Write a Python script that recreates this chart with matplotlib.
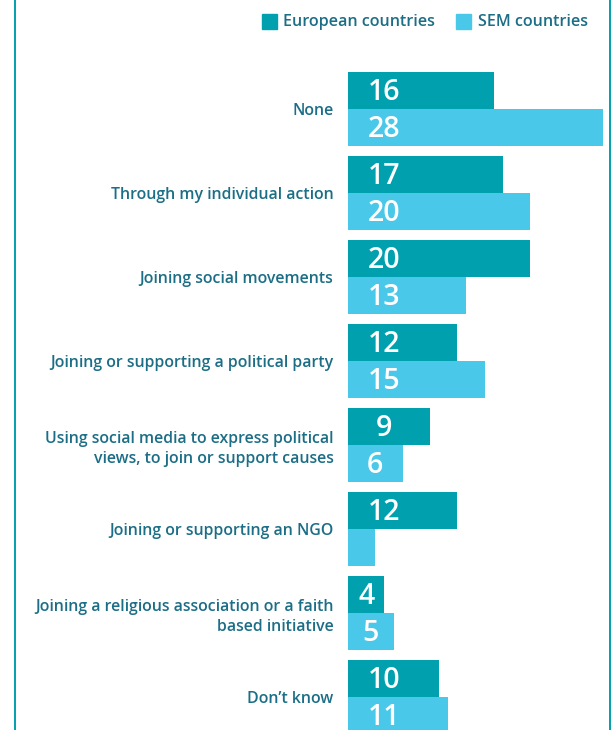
"""
Political engagement bars: European vs SEM countries
"""

import matplotlib
matplotlib.use("Agg")
import matplotlib.pyplot as plt
from matplotlib.lines import Line2D
from matplotlib.patches import Rectangle

categories = [
    "None",
    "Through my individual action",
    "Joining social movements",
    "Joining or supporting a political party",
    "Using social media to express political\nviews, to join or support causes",
    "Joining or supporting an NGO",
    "Joining a religious association or a faith\nbased initiative",
    "Don\u2019t know",
]
european = [16, 17, 20, 12, 9, 12, 4, 10]
sem = [28, 20, 13, 15, 6, 3, 5, 11]
european_labels = ["16", "17", "20", "12", "9", "12", "4", "10"]
sem_labels = ["28", "20", "13", "15", "6", "", "5", "11"]
series_names = ["European countries", "SEM countries"]

TEAL = "#00A0AE"
LIGHT = "#4AC8EA"
TEXT = "#1B6E86"
W, H = 613, 730

plt.rcParams["font.family"] = ["Open Sans", "DejaVu Sans"]

fig = plt.figure(figsize=(W / 100, H / 100), dpi=100)

# axes from the bar baseline (x=348px) to the right frame line
left_px, right_px = 348, 609
ax = fig.add_axes([left_px / W, 0, (right_px - left_px) / W, 1])

pitch = 84.0
first_center = 109.0
ax.set_ylim((H - first_center) / pitch, -first_center / pitch)
ax.set_xlim(0, (right_px - left_px) / 9.1)

bar_h = 37 / pitch
pos = list(range(len(categories)))
ax.barh([p - bar_h / 2 for p in pos], european, height=bar_h, color=TEAL)
ax.barh([p + bar_h / 2 for p in pos], sem, height=bar_h, color=LIGHT)

for p, v, lab in zip(pos, european, european_labels):
    ax.text(min(4.0, v / 2), p - bar_h / 2 + 0.025, lab, color="white",
            fontsize=20.5, fontweight="semibold", ha="center", va="center")
for p, v, lab in zip(pos, sem, sem_labels):
    ax.text(min(4.0, v / 2), p + bar_h / 2 + 0.025, lab, color="white",
            fontsize=20.5, fontweight="semibold", ha="center", va="center")

ax.set_yticks(pos)
ax.set_yticklabels(categories, fontsize=11.4, fontweight="semibold", color=TEXT,
                   linespacing=1.3)
ax.tick_params(axis="y", length=0, pad=10.5)
ax.set_xticks([])
for s in ax.spines.values():
    s.set_visible(False)

# frame lines left and right
for x in (15, 610):
    fig.add_artist(Line2D([x / W, x / W], [0, 1], color=TEAL, lw=1.4))

# legend
for (sq_x, txt_x), name, col in zip([(262, 283), (456, 478)], series_names, [TEAL, LIGHT]):
    fig.add_artist(Rectangle((sq_x / W, 1 - 29 / H), 15 / W, 15 / H,
                             color=col, transform=fig.transFigure))
    fig.text(txt_x / W, 1 - 22 / H, name, fontsize=11.6, fontweight="semibold",
             color=TEXT, ha="left", va="center")

fig.savefig("out.png", dpi=100)
